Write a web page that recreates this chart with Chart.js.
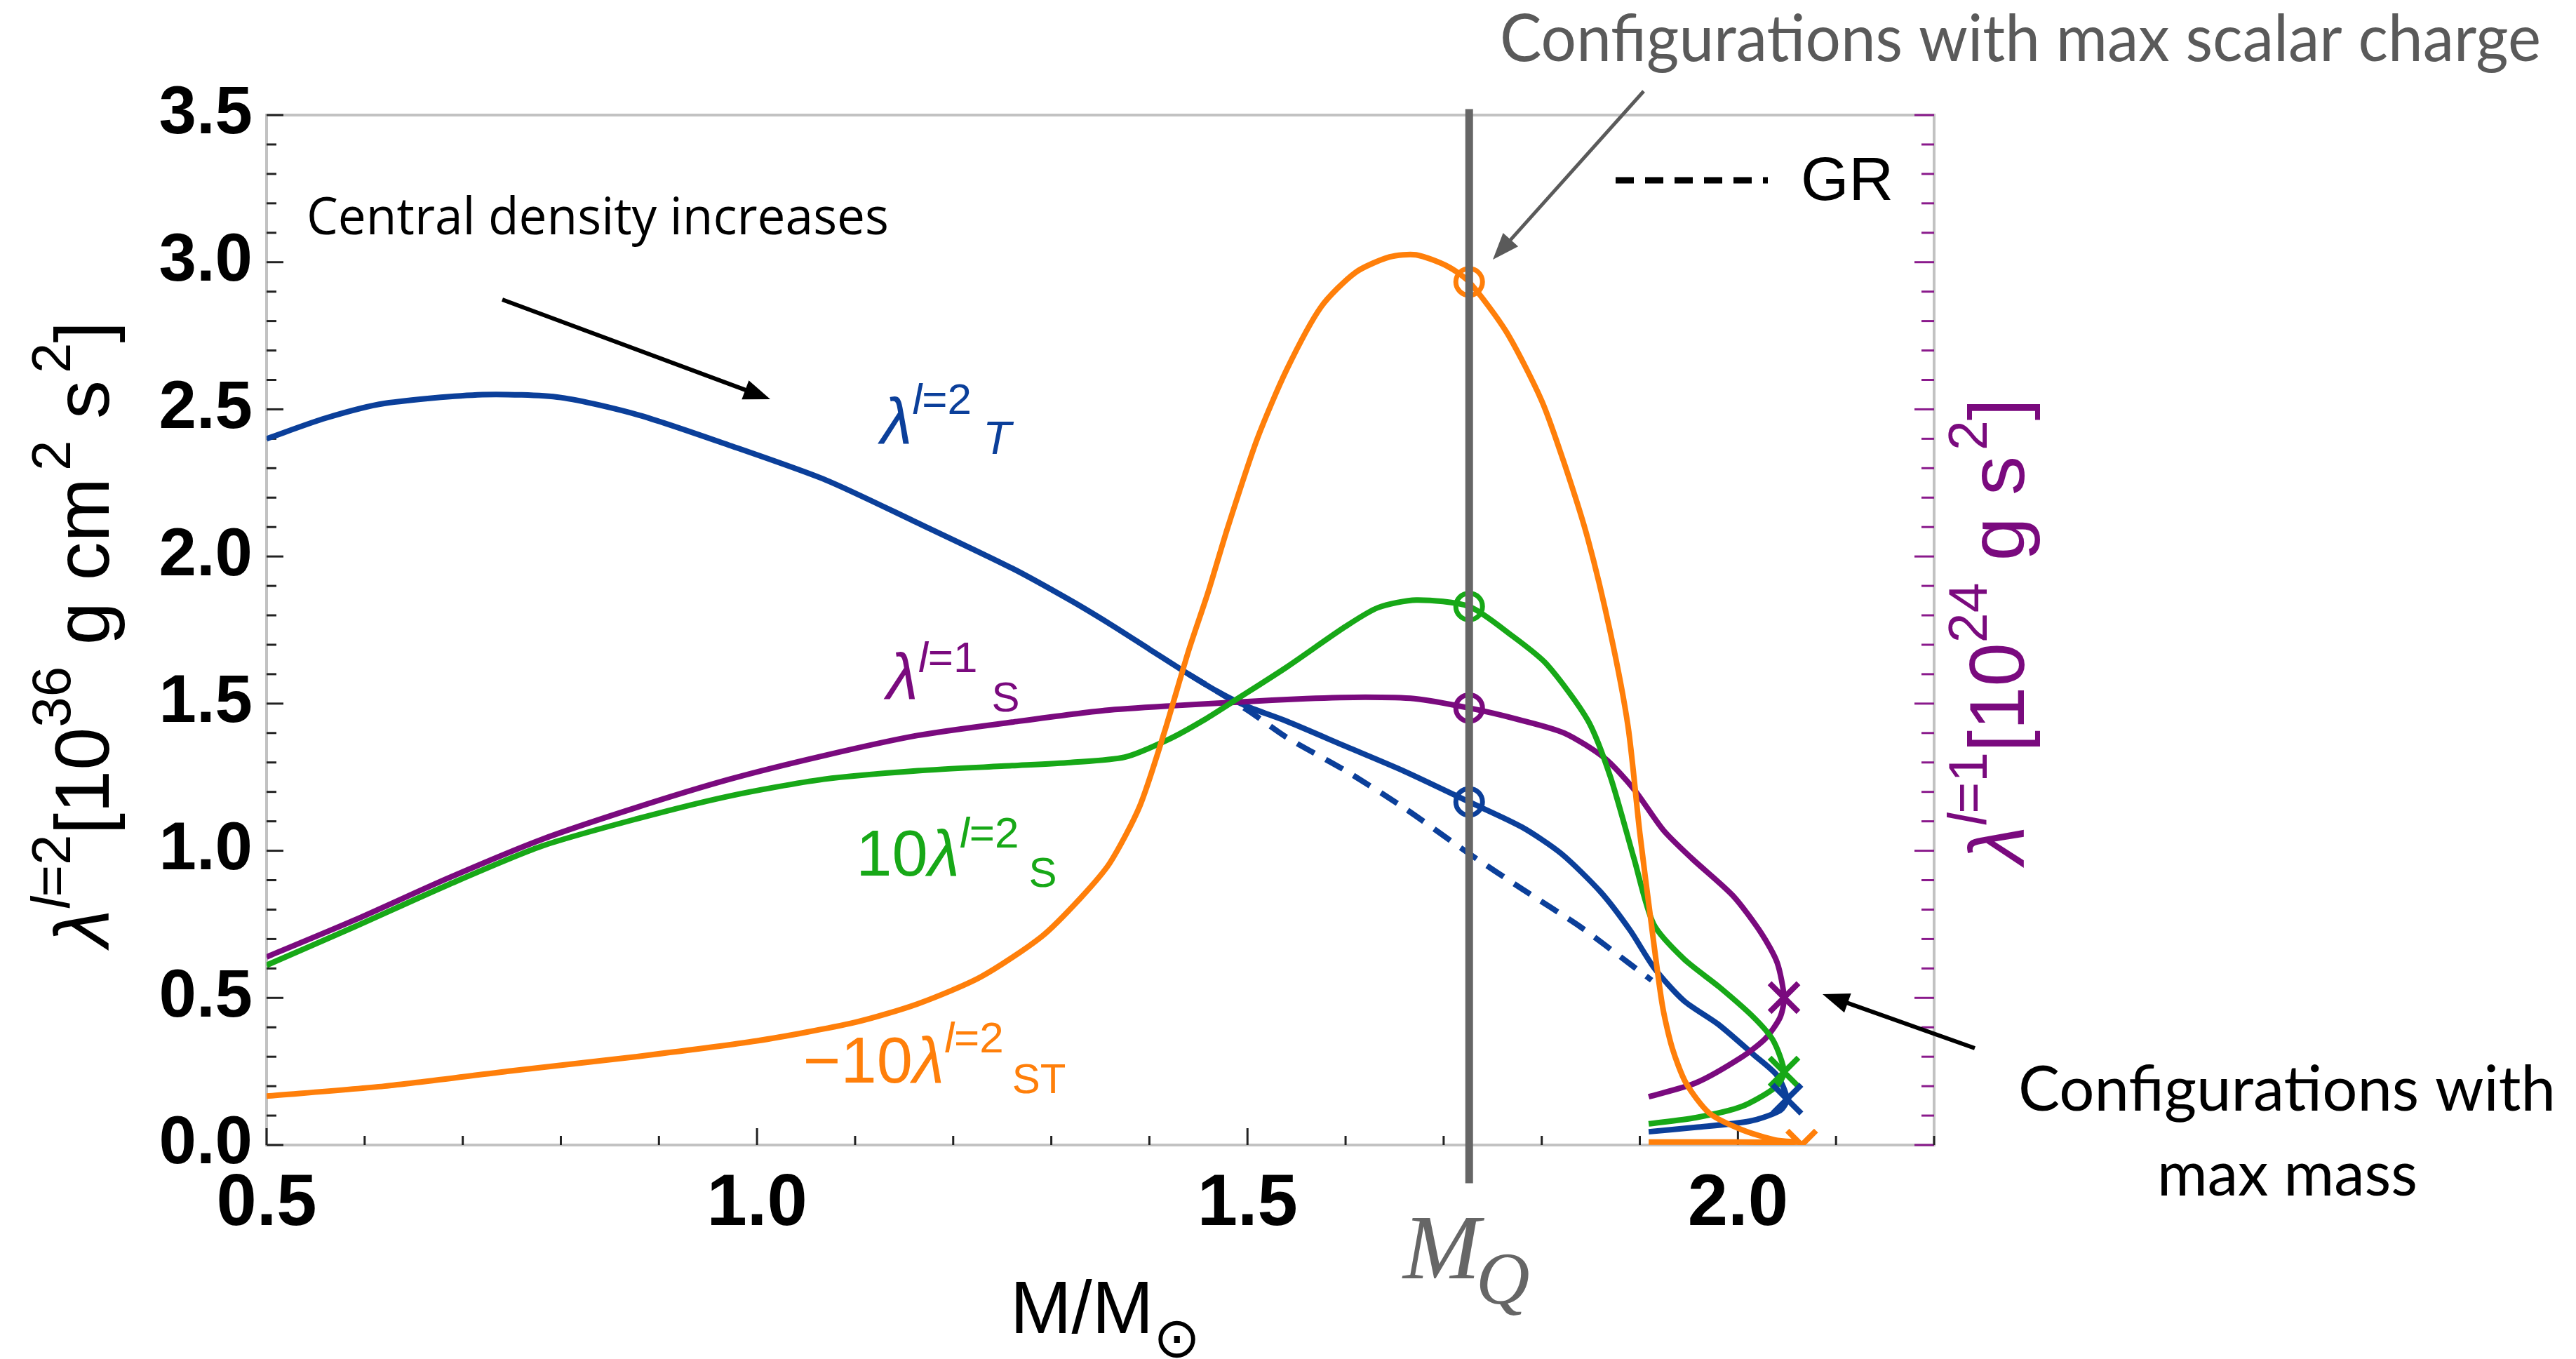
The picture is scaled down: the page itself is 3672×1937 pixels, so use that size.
<!DOCTYPE html>
<html>
<head>
<meta charset="utf-8">
<script src="https://cdn.jsdelivr.net/npm/chart.js@4"></script>
<style>
  html, body { margin: 0; padding: 0; background: #fff; }
  canvas { display: block; }
</style>
</head>
<body>
<canvas id="chart" width="3672" height="1937"></canvas>
<script>
// axis ranges and ticks
const xMin = 0.5, xMax = 2.2, yMin = 0, yMax = 3.5;
const xTicks = [0.5, 1.0, 1.5, 2.0];
const yTicks = [0, 0.5, 1.0, 1.5, 2.0, 2.5, 3.0, 3.5];
const MQ = 1.726;

// lambda^{l=2}_T (blue)
const tM = [0.50, 0.56, 0.62, 0.72, 0.80, 0.88, 0.97, 1.07, 1.16, 1.26, 1.32, 1.36, 1.40, 1.44, 1.47, 1.50, 1.54, 1.60, 1.66, 1.726, 1.78, 1.82, 1.86, 1.89, 1.915, 1.945, 1.98, 2.016, 2.04, 2.05, 2.043, 2.012, 1.957, 1.909];
const tL = [2.40, 2.47, 2.52, 2.55, 2.54, 2.48, 2.38, 2.26, 2.12, 1.96, 1.85, 1.77, 1.685, 1.60, 1.54, 1.49, 1.44, 1.355, 1.27, 1.166, 1.08, 0.99, 0.86, 0.73, 0.60, 0.49, 0.41, 0.307, 0.236, 0.156, 0.117, 0.081, 0.060, 0.045];

// GR (dashed blue)
const grM = [1.44, 1.50, 1.54, 1.60, 1.66, 1.726, 1.78, 1.84, 1.89, 1.912];
const grL = [1.60, 1.478, 1.385, 1.272, 1.145, 0.99, 0.87, 0.74, 0.615, 0.56];

// 10 lambda^{l=2}_S (green)
const sM = [0.50, 0.59, 0.685, 0.78, 0.876, 0.972, 1.068, 1.164, 1.26, 1.32, 1.375, 1.42, 1.455, 1.49, 1.54, 1.60, 1.633, 1.672, 1.726, 1.77, 1.805, 1.847, 1.87, 1.894, 1.914, 1.945, 1.981, 2.016, 2.036, 2.047, 2.038, 2.004, 1.957, 1.909];
const sL = [0.611, 0.742, 0.884, 1.015, 1.107, 1.186, 1.243, 1.272, 1.289, 1.30, 1.318, 1.379, 1.443, 1.517, 1.624, 1.762, 1.826, 1.852, 1.83, 1.73, 1.634, 1.443, 1.251, 0.974, 0.751, 0.632, 0.537, 0.434, 0.355, 0.248, 0.196, 0.131, 0.093, 0.072];

// lambda^{l=1}_S (purple)
const pM = [0.50, 0.59, 0.685, 0.78, 0.876, 0.972, 1.068, 1.164, 1.26, 1.355, 1.43, 1.49, 1.56, 1.62, 1.67, 1.726, 1.775, 1.823, 1.864, 1.894, 1.924, 1.953, 1.995, 2.024, 2.04, 2.047, 2.043, 2.028, 2.004, 1.957, 1.909];
const pL = [0.639, 0.765, 0.907, 1.038, 1.146, 1.243, 1.323, 1.392, 1.437, 1.477, 1.494, 1.505, 1.517, 1.522, 1.517, 1.485, 1.447, 1.40, 1.315, 1.209, 1.07, 0.974, 0.847, 0.719, 0.62, 0.501, 0.434, 0.362, 0.299, 0.211, 0.164];

// -10 lambda^{l=2}_ST (orange)
const oM = [0.50, 0.62, 0.75, 0.876, 1.00, 1.10, 1.164, 1.228, 1.29, 1.33, 1.36, 1.39, 1.415, 1.44, 1.46, 1.48, 1.51, 1.54, 1.575, 1.61, 1.645, 1.672, 1.704, 1.726, 1.764, 1.80, 1.823, 1.847, 1.87, 1.888, 1.90, 1.911, 1.923, 1.933, 1.947, 1.971, 2.004, 2.038, 2.06, 2.0, 1.95, 1.909];
const oL = [0.166, 0.20, 0.252, 0.30, 0.354, 0.417, 0.48, 0.571, 0.708, 0.84, 0.96, 1.15, 1.40, 1.68, 1.88, 2.10, 2.40, 2.635, 2.848, 2.965, 3.018, 3.025, 2.986, 2.933, 2.763, 2.529, 2.316, 2.06, 1.741, 1.422, 1.06, 0.77, 0.474, 0.33, 0.211, 0.108, 0.052, 0.017, 0.01, 0.01, 0.01, 0.01];

// markers: max scalar charge (circles at M_Q) and max mass (crosses)
const chargeVals = [2.933, 1.83, 1.485, 1.166];
const maxMassM = [2.065, 2.047, 2.047, 2.05];
const maxMassL = [0.0, 0.248, 0.501, 0.156];

const BLUE = '#0b3f9a', GREEN = '#17a817', PURPLE = '#7a0a7e', ORANGE = '#ff7f0a';
const markerColors = [ORANGE, GREEN, PURPLE, BLUE];

const pts = (xs, ys) => xs.map((x, i) => ({ x, y: ys[i] }));
const curve = (label, xs, ys, color, extra) => Object.assign({
  label, data: pts(xs, ys), borderColor: color, borderWidth: 8,
  pointRadius: 0, showLine: true, tension: 0.25, fill: false
}, extra || {});

const SANS = '"Liberation Sans", Arial, sans-serif';
const f = (style, size, fam) => `${style} ${size}px ${fam || SANS}`;

function richWidth(ctx, parts) {
  let w = 0;
  for (const p of parts) { ctx.font = p.f; w += (p.gap || 0) + ctx.measureText(p.t).width; }
  return w;
}
function drawRich(ctx, parts, x, y, color, rot, center) {
  ctx.save();
  ctx.translate(x, y);
  if (rot) ctx.rotate(rot);
  ctx.fillStyle = color;
  ctx.textAlign = 'left';
  ctx.textBaseline = 'alphabetic';
  let cx = center ? -richWidth(ctx, parts) / 2 : 0;
  for (const p of parts) {
    ctx.font = p.f;
    cx += p.gap || 0;
    ctx.fillText(p.t, cx, p.dy || 0);
    cx += ctx.measureText(p.t).width;
  }
  ctx.restore();
}
function fitText(ctx, str, x, y, font, width, color) {
  ctx.save();
  ctx.font = font;
  const w = ctx.measureText(str).width;
  ctx.translate(x, y);
  ctx.scale(width / w, 1);
  ctx.fillStyle = color;
  ctx.textAlign = 'left';
  ctx.textBaseline = 'alphabetic';
  ctx.fillText(str, 0, 0);
  ctx.restore();
}
function arrow(ctx, x1, y1, x2, y2, color, lw, head) {
  const a = Math.atan2(y2 - y1, x2 - x1);
  ctx.save();
  ctx.strokeStyle = color; ctx.fillStyle = color; ctx.lineWidth = lw;
  ctx.beginPath();
  ctx.moveTo(x1, y1);
  ctx.lineTo(x2 - Math.cos(a) * head * 0.8, y2 - Math.sin(a) * head * 0.8);
  ctx.stroke();
  ctx.beginPath();
  ctx.moveTo(x2, y2);
  ctx.lineTo(x2 - head * Math.cos(a) + head * 0.38 * Math.sin(a), y2 - head * Math.sin(a) - head * 0.38 * Math.cos(a));
  ctx.lineTo(x2 - head * Math.cos(a) - head * 0.38 * Math.sin(a), y2 - head * Math.sin(a) + head * 0.38 * Math.cos(a));
  ctx.closePath();
  ctx.fill();
  ctx.restore();
}

const decor = {
  id: 'decor',
  beforeDatasetsDraw(chart) {
    const { ctx, chartArea: a } = chart;
    ctx.save();
    // frame
    ctx.strokeStyle = '#c2c2c2';
    ctx.lineWidth = 4;
    ctx.strokeRect(a.left, a.top, a.right - a.left, a.bottom - a.top);
    // inward minor/major ticks
    const ys = chart.scales.y, xs = chart.scales.x;
    ctx.lineWidth = 3;
    for (let i = 0; i <= 35; i++) {
      const py = ys.getPixelForValue(i / 10);
      const len = i % 5 === 0 ? 24 : 14;
      ctx.strokeStyle = '#222';
      ctx.beginPath(); ctx.moveTo(a.left, py); ctx.lineTo(a.left + len, py); ctx.stroke();
      ctx.strokeStyle = '#8a1a8c';
      ctx.beginPath(); ctx.moveTo(a.right, py); ctx.lineTo(a.right - len - 4, py); ctx.stroke();
    }
    ctx.strokeStyle = '#222';
    for (let i = 5; i <= 22; i++) {
      const px = xs.getPixelForValue(i / 10);
      const len = i % 5 === 0 ? 24 : 13;
      ctx.beginPath(); ctx.moveTo(px, a.bottom); ctx.lineTo(px, a.bottom - len); ctx.stroke();
    }
    ctx.restore();
  },
  afterDatasetsDraw(chart) {
    const { ctx } = chart;
    const xs = chart.scales.x, ys = chart.scales.y;
    const X = v => xs.getPixelForValue(v), Y = v => ys.getPixelForValue(v);

    // M_Q vertical line
    ctx.save();
    ctx.strokeStyle = '#666666';
    ctx.lineWidth = 11;
    ctx.beginPath();
    ctx.moveTo(X(MQ), Y(3.52));
    ctx.lineTo(X(MQ), Y(-0.13));
    ctx.stroke();
    ctx.restore();

    // GR legend
    ctx.save();
    ctx.strokeStyle = '#000'; ctx.lineWidth = 9; ctx.setLineDash([26, 16]);
    ctx.beginPath(); ctx.moveTo(2303, 257); ctx.lineTo(2520, 257); ctx.stroke();
    ctx.restore();
    drawRich(ctx, [{ t: 'GR', f: f('normal', 88) }], 2567, 285, '#000');

    // curve labels
    const I92 = f('italic', 92), R92 = f('normal', 92), I62 = f('italic', 62), R62 = f('normal', 62);
    drawRich(ctx, [{ t: 'λ', f: I92 }, { t: 'l', f: I62, dy: -42 }, { t: '=2', f: R62, dy: -42 },
      { t: 'T', f: f('italic', 66), dy: 15, gap: 16 }], X(1.126), Y(2.384), BLUE);
    drawRich(ctx, [{ t: 'λ', f: I92 }, { t: 'l', f: I62, dy: -38 }, { t: '=1', f: R62, dy: -38 },
      { t: 'S', f: f('normal', 60), dy: 18, gap: 20 }], X(1.132), Y(1.517), PURPLE);
    drawRich(ctx, [{ t: '10', f: R92 }, { t: 'λ', f: I92 }, { t: 'l', f: I62, dy: -40 }, { t: '=2', f: R62, dy: -40 },
      { t: 'S', f: f('normal', 60), dy: 16, gap: 14 }], X(1.101), Y(0.916), GREEN);
    drawRich(ctx, [{ t: '−10', f: R92 }, { t: 'λ', f: I92 }, { t: 'l', f: I62, dy: -43 }, { t: '=2', f: R62, dy: -43 },
      { t: 'ST', f: f('normal', 60), dy: 15, gap: 12 }], X(1.047), Y(0.212), ORANGE);

    // axis titles
    const sup = 78;
    drawRich(ctx, [
      { t: 'λ', f: f('italic', 110) }, { t: 'l', f: f('italic', sup), dy: -55 }, { t: '=2', f: f('normal', sup), dy: -55 },
      { t: '[10', f: f('normal', 110) }, { t: '36', f: f('normal', sup), dy: -55 },
      { t: ' g cm', f: f('normal', 110) }, { t: '2', f: f('normal', sup), dy: -55, gap: 10 },
      { t: ' s', f: f('normal', 110) }, { t: '2', f: f('normal', sup), dy: -55, gap: 10 },
      { t: ']', f: f('normal', 110) }
    ], 155, 904, '#000', -Math.PI / 2, true);
    drawRich(ctx, [
      { t: 'λ', f: f('italic', 112) }, { t: 'l', f: f('italic', 77), dy: -53 }, { t: '=1', f: f('normal', 77), dy: -53 },
      { t: '[10', f: f('normal', 112) }, { t: '24', f: f('normal', 77), dy: -53 },
      { t: ' g s', f: f('normal', 112) }, { t: '2', f: f('normal', 77), dy: -53, gap: 8 },
      { t: ']', f: f('normal', 112) }
    ], 2885, 900, PURPLE, -Math.PI / 2, true);
    drawRich(ctx, [{ t: 'M/M', f: f('normal', 105) },
      { t: '⊙', f: '80px "DejaVu Sans"', dy: 34, gap: 0 }], 1440, 1900, '#000');

    // M_Q label
    drawRich(ctx, [{ t: 'M', f: 'italic 132px "Liberation Serif"' },
      { t: 'Q', f: 'italic 106px "Liberation Serif"', dy: 36, gap: -6 }], 2000, 1822, '#666666');

    // annotations
    fitText(ctx, 'Configurations with max scalar charge', 2138, 87, '94px Lato', 1484, '#5a5a5a');
    arrow(ctx, 2343, 130, 2128, 370, '#5a5a5a', 5, 38);
    fitText(ctx, 'Central density increases', 437, 334, '74px "Open Sans"', 830, '#000');
    arrow(ctx, 716, 427, 1098, 569, '#000', 6, 38);
    fitText(ctx, 'Configurations with', 2877, 1583, '90px Lato', 766, '#000');
    fitText(ctx, 'max mass', 3075, 1704, '90px Lato', 371, '#000');
    arrow(ctx, 2815, 1494, 2598, 1417, '#000', 6, 38);
  }
};

new Chart(document.getElementById('chart'), {
  type: 'scatter',
  data: {
    datasets: [
      {
        label: 'max scalar charge', data: chargeVals.map(v => ({ x: MQ, y: v })),
        pointStyle: 'circle', pointRadius: 19, pointBorderWidth: 7,
        pointBackgroundColor: 'rgba(0,0,0,0)', pointBorderColor: markerColors, showLine: false
      },
      {
        label: 'max mass', data: pts(maxMassM, maxMassL),
        pointStyle: 'crossRot', pointRadius: 29, pointBorderWidth: 8,
        pointBorderColor: markerColors, showLine: false
      },
      curve('-10 lambda ST', oM, oL, ORANGE),
      curve('10 lambda S', sM, sL, GREEN),
      curve('lambda l=1 S', pM, pL, PURPLE),
      curve('lambda T', tM, tL, BLUE),
      curve('GR', grM, grL, BLUE, { borderDash: [28, 18] })
    ]
  },
  options: {
    responsive: false,
    animation: false,
    devicePixelRatio: 1,
    layout: { padding: { top: 164, left: 0, right: 0, bottom: 0 } },
    plugins: { legend: { display: false }, tooltip: { enabled: false } },
    scales: {
      x: {
        type: 'linear', min: xMin, max: xMax, position: 'bottom',
        afterFit: s => { s.height = 305; },
        afterBuildTicks: s => { s.ticks = xTicks.map(v => ({ value: v })); },
        grid: { display: false, drawTicks: false }, border: { display: false },
        ticks: { color: '#000', font: { family: SANS, size: 103, weight: 'bold' }, padding: 24,
          maxRotation: 0, autoSkip: false, callback: v => v.toFixed(1) }
      },
      y: {
        type: 'linear', min: yMin, max: yMax, position: 'left',
        afterFit: s => { s.width = 380; },
        afterBuildTicks: s => { s.ticks = yTicks.map(v => ({ value: v })); },
        grid: { display: false, drawTicks: false }, border: { display: false },
        ticks: { color: '#000', font: { family: SANS, size: 96, weight: 'bold' }, padding: 20,
          autoSkip: false, callback: v => v.toFixed(1) }
      },
      y2: {
        type: 'linear', min: yMin, max: yMax, position: 'right',
        afterFit: s => { s.width = 915; },
        grid: { display: false, drawTicks: false }, border: { display: false },
        ticks: { display: false }
      }
    }
  },
  plugins: [decor]
});
</script>
</body>
</html>
